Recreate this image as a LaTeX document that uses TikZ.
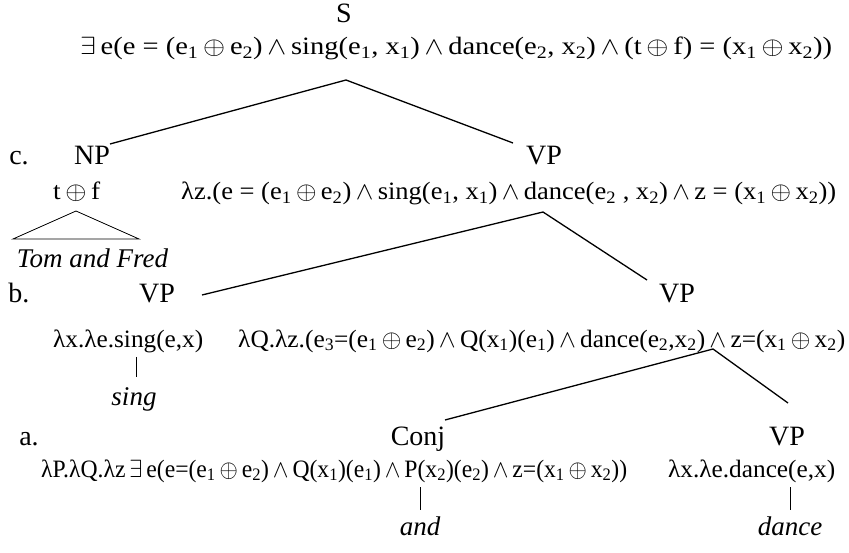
\documentclass[tikz,border=0pt]{standalone}
\usepackage{fontspec}
\setmainfont{Liberation Serif}
\usepackage{graphicx}
\newcommand\sbs[1]{\textsubscript{#1}}
\newcommand\op{\ensuremath{\oplus}}
\newcommand\wg{\ensuremath{\wedge}}
\newcommand\ex{\ensuremath{\exists}}
\newcommand\fitw[2]{\resizebox{#1pt}{\height}{#2}}
\begin{document}
\begin{tikzpicture}[x=1pt,y=-1pt,
  lab/.style={font=\fontsize{28}{30}\selectfont, inner sep=0, anchor=base},
  frm/.style={font=\fontsize{25}{27}\selectfont, inner sep=0, anchor=base west},
  wrd/.style={font=\fontsize{27}{29}\selectfont\itshape, inner sep=0, anchor=base},
  edge/.style={line width=1.3pt},
  bar/.style={line width=0.8pt}]
\useasboundingbox (0,0) rectangle (849,553);
% S level
\node[lab] (S) at (344,23) {S};
\node[frm] (sf) at (80,55) {\fitw{752}{\ex\,e(e = (e\sbs1\,\op\,e\sbs2)\,\wg\,sing(e\sbs1, x\sbs1)\,\wg\,dance(e\sbs2, x\sbs2)\,\wg\,(t\,\op\,f) = (x\sbs1\,\op\,x\sbs2))}};
\coordinate (sA) at (346,80);
% c level
\node[lab] (c) at (19,165) {c.};
\node[lab] (NP) at (92,165) {NP};
\node[lab] (VPc) at (544,165) {VP};
\coordinate (sL) at (110,144);
\coordinate (sR) at (513,143);
\draw[edge] (sL) -- (sA) -- (sR);
\node[frm] (tf) at (53,200) {\fitw{47}{t\,\op\,f}};
\node[frm] (cf) at (181,200) {\fitw{655}{λz.(e = (e\sbs1\,\op\,e\sbs2)\,\wg\,sing(e\sbs1, x\sbs1)\,\wg\,dance(e\sbs2 , x\sbs2)\,\wg\,z = (x\sbs1\,\op\,x\sbs2))}};
\coordinate (tA) at (76,211);
\coordinate (tL) at (13,239);
\coordinate (tR) at (139,239);
\draw[bar] (tA) -- (tL) -- (tR) -- cycle;
\node[wrd] (tom) at (92.5,268) {Tom and Fred};
\coordinate (cA) at (543,212);
% b level
\node[lab] (b) at (19,303) {b.};
\node[lab] (VPb1) at (157,303) {VP};
\node[lab] (VPb2) at (677,303) {VP};
\coordinate (cL) at (202,295);
\coordinate (cR) at (647,280);
\draw[edge] (cL) -- (cA) -- (cR);
\node[frm] (bf1) at (53,347) {\fitw{150}{λx.λe.sing(e,x)}};
\node[frm] (bf2) at (238,347) {\fitw{607}{λQ.λz.(e\sbs3=(e\sbs1\,\op\,e\sbs2)\,\wg\,Q(x\sbs1)(e\sbs1)\,\wg\,dance(e\sbs2,x\sbs2)\,\wg\,z=(x\sbs1\,\op\,x\sbs2)}};
\coordinate (singT) at (136,357);
\coordinate (singB) at (136,377);
\draw[bar] (singT) -- (singB);
\node[wrd] (sing) at (134,405) {sing};
\coordinate (bA) at (713,349);
% a level
\node[lab] (a) at (29,445) {a.};
\node[lab] (Conj) at (418,445) {Conj};
\node[lab] (VPa) at (787,445) {VP};
\coordinate (bL) at (445,420);
\coordinate (bR) at (788,403);
\draw[edge] (bL) -- (bA) -- (bR);
\node[frm] (af1) at (41,477) {\fitw{586}{λP.λQ.λz\,\ex\,e(e=(e\sbs1\,\op\,e\sbs2)\,\wg\,Q(x\sbs1)(e\sbs1)\,\wg\,P(x\sbs2)(e\sbs2)\,\wg\,z=(x\sbs1\,\op\,x\sbs2))}};
\node[frm] (af2) at (668,477) {\fitw{167}{λx.λe.dance(e,x)}};
\coordinate (andT) at (420,487);
\coordinate (andB) at (420,510);
\draw[bar] (andT) -- (andB);
\coordinate (danT) at (790,487);
\coordinate (danB) at (790,510);
\draw[bar] (danT) -- (danB);
\node[wrd] (and) at (420,535) {and};
\node[wrd] (dance) at (790,535) {dance};
\end{tikzpicture}
\end{document}
